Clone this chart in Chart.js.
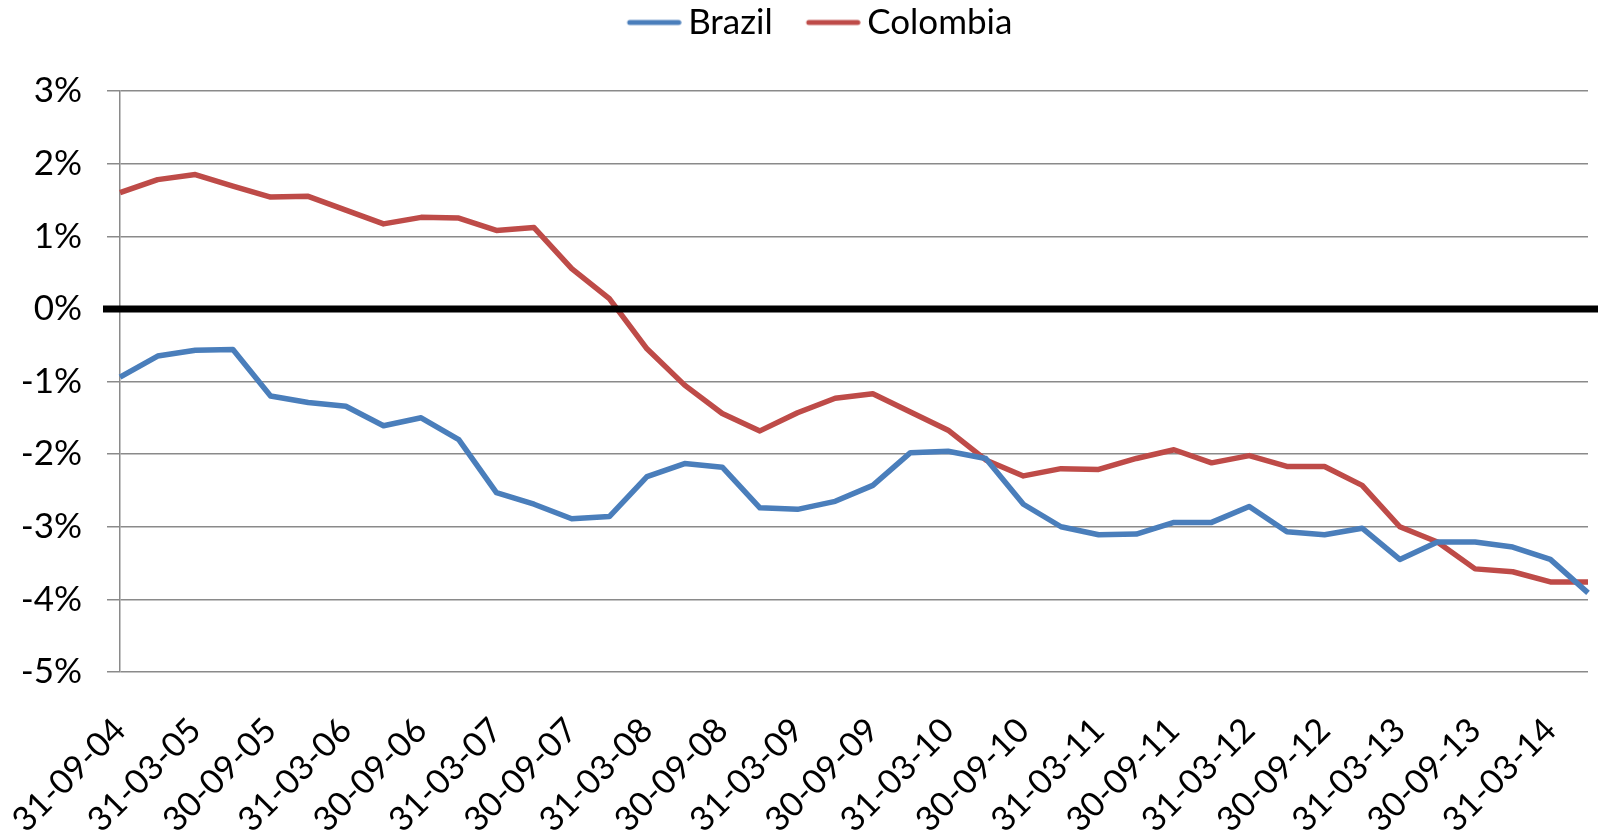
<!DOCTYPE html>
<html>
<head>
<meta charset="utf-8">
<title>Brazil vs Colombia</title>
<style>
  html, body { margin: 0; padding: 0; background: #ffffff; }
  #wrap { width: 1598px; height: 832px; }
</style>
<script src="https://cdn.jsdelivr.net/npm/chart.js@4.4.1/dist/chart.umd.min.js"></script>
</head>
<body>
<div id="wrap"><canvas id="chart" width="1598" height="832"></canvas></div>
<script>
// Quarter-end dates (every other one is shown on the axis)
const quarterEnds = [
  '31-09-04', '31-12-04', '31-03-05', '30-06-05', '30-09-05', '31-12-05',
  '31-03-06', '30-06-06', '30-09-06', '31-12-06', '31-03-07', '30-06-07',
  '30-09-07', '31-12-07', '31-03-08', '30-06-08', '30-09-08', '31-12-08',
  '31-03-09', '30-06-09', '30-09-09', '31-12-09', '31-03-10', '30-06-10',
  '30-09-10', '31-12-10', '31-03-11', '30-06-11', '30-09-11', '31-12-11',
  '31-03-12', '30-06-12', '30-09-12', '31-12-12', '31-03-13', '30-06-13',
  '30-09-13', '31-12-13', '31-03-14', '30-06-14'
];

// Values in percent
const brazil = [
  -0.94, -0.65, -0.57, -0.56, -1.20, -1.29, -1.34, -1.61, -1.50, -1.80,
  -2.53, -2.69, -2.89, -2.86, -2.31, -2.13, -2.18, -2.74, -2.76, -2.65,
  -2.43, -1.98, -1.96, -2.06, -2.69, -3.00, -3.11, -3.10, -2.94, -2.94,
  -2.72, -3.07, -3.11, -3.02, -3.45, -3.21, -3.21, -3.28, -3.45, -3.91
];
const colombia = [
   1.60,  1.78,  1.85,  1.69,  1.54,  1.55,  1.36,  1.17,  1.26,  1.25,
   1.08,  1.12,  0.555, 0.14, -0.55, -1.05, -1.44, -1.68, -1.43, -1.23,
  -1.17, -1.42, -1.67, -2.08, -2.30, -2.20, -2.21, -2.06, -1.94, -2.12,
  -2.02, -2.17, -2.17, -2.43, -3.00, -3.21, -3.58, -3.62, -3.76, -3.76
];

const seriesNames = ['Brazil', 'Colombia'];
const seriesColors = ['#4a7ebb', '#be4b48'];

const FONT = 'Lato, "Open Sans", "DejaVu Sans", sans-serif';
const FONT_SIZE = 35;
const X_FONT_SIZE = 34;
const GRID = '#8a8a8a';

// Legend swatch: a short round-capped line, placed close to its text
function legendSwatch(color) {
  const c = document.createElement('canvas');
  c.width = 94; c.height = 10;
  const g = c.getContext('2d');
  g.strokeStyle = color;
  g.lineWidth = 5;
  g.lineCap = 'round';
  g.beginPath();
  g.moveTo(42, 5);
  g.lineTo(91, 5);
  g.stroke();
  return c;
}

// Fixed legend band height so the plot starts at the right place
const legendBand = {
  id: 'legendBand',
  beforeLayout(chart) {
    const lg = chart.legend;
    if (lg && !lg._bandPatched) {
      const fit = lg.fit;
      lg.fit = function () { fit.call(this); this.height = 91; };
      lg._bandPatched = true;
    }
  }
};

// Heavy black reference line at 0%
const zeroLine = {
  id: 'zeroLine',
  afterDatasetsDraw(chart) {
    const y = chart.scales.y.getPixelForValue(0);
    const ctx = chart.ctx;
    ctx.save();
    ctx.strokeStyle = '#000000';
    ctx.lineWidth = 7;
    ctx.beginPath();
    ctx.moveTo(chart.chartArea.left - 17, y);
    ctx.lineTo(chart.width, y);
    ctx.stroke();
    ctx.restore();
  }
};

Chart.defaults.color = '#000000';
Chart.defaults.font.family = FONT;
Chart.defaults.font.size = FONT_SIZE;

new Chart(document.getElementById('chart'), {
  type: 'line',
  data: {
    labels: quarterEnds,
    datasets: [
      {
        label: seriesNames[0],
        data: brazil,
        borderColor: seriesColors[0],
        backgroundColor: seriesColors[0],
        borderWidth: 5.5,
        pointRadius: 0,
        tension: 0,
        borderJoinStyle: 'round'
      },
      {
        label: seriesNames[1],
        data: colombia,
        borderColor: seriesColors[1],
        backgroundColor: seriesColors[1],
        borderWidth: 5.5,
        pointRadius: 0,
        tension: 0,
        borderJoinStyle: 'round'
      }
    ]
  },
  options: {
    responsive: false,
    animation: false,
    devicePixelRatio: 1,
    layout: { padding: { left: 23, right: 10, top: 0, bottom: 0 } },
    plugins: {
      tooltip: { enabled: false },
      legend: {
        position: 'top',
        labels: {
          usePointStyle: true,
          pointStyleWidth: 72,
          padding: 5,
          font: { family: FONT, size: FONT_SIZE },
          color: '#000000',
          generateLabels(chart) {
            return Chart.defaults.plugins.legend.labels.generateLabels(chart).map((item, i) => {
              item.pointStyle = legendSwatch(seriesColors[i]);
              return item;
            });
          }
        }
      }
    },
    scales: {
      x: {
        type: 'category',
        offset: false,
        grid: { display: false, drawTicks: false },
        border: { display: false },
        afterFit(scale) {
          scale.height = 160;
          scale.paddingLeft = 0;
          scale.paddingRight = 0;
        },
        ticks: {
          autoSkip: false,
          maxRotation: 45,
          minRotation: 45,
          padding: 38,
          font: { family: FONT, size: X_FONT_SIZE },
          callback: (value, index) => (index % 2 === 0 ? quarterEnds[index] : '')
        }
      },
      y: {
        min: -5,
        max: 3,
        afterFit(scale) { scale.width = 97; },
        grid: {
          color: GRID,
          lineWidth: 1.5,
          drawTicks: true,
          tickLength: 13
        },
        border: { display: true, color: GRID, width: 1.5 },
        ticks: {
          stepSize: 1,
          padding: 25,
          font: { family: FONT, size: FONT_SIZE },
          callback: (value) => value + '%'
        }
      }
    }
  },
  plugins: [legendBand, zeroLine]
});
</script>
</body>
</html>
